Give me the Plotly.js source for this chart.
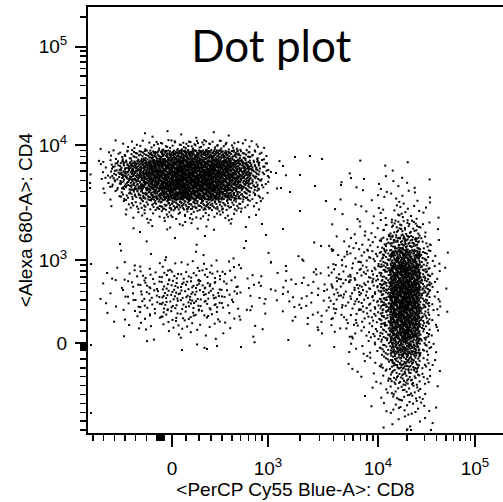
<!DOCTYPE html>
<html><head><meta charset="utf-8">
<script src="https://cdn.plot.ly/plotly-3.0.1.min.js"></script>
<style>html,body{margin:0;padding:0;background:#fff;} #chart{width:503px;height:502px;}</style>
</head><body><div id="chart"></div>
<script>
// ---------- DATA (event density, in display channels) ----------
// CD4+ population: counts per cell, rows from top to bottom
const cd4Counts = [
  [0,0,0,0,0,1,1,1,0,1,1,0,1,1,0,0,0,0,0,0],
  [0,1,1,2,3,4,5,6,7,8,8,8,7,6,5,4,3,1,0,0],
  [0,1,4,8,12,16,24,30,34,36,36,34,30,26,20,14,8,3,0,0],
  [1,3,10,20,28,34,42,46,48,48,48,48,46,42,36,28,18,6,1,0],
  [1,4,12,22,30,38,45,48,50,50,50,50,48,44,38,30,18,6,1,1],
  [0,2,8,16,24,32,42,46,48,50,50,48,46,42,34,24,14,5,1,0],
  [0,1,3,8,14,20,30,38,42,44,44,42,38,32,24,16,8,2,0,0],
  [0,0,1,3,6,9,13,16,18,18,18,17,15,12,9,6,3,1,0,0],
  [0,0,0,1,2,3,4,5,5,5,5,5,4,4,3,2,1,0,0,0],
  [0,0,0,0,1,1,1,2,2,2,2,1,1,1,1,1,0,0,0,0]
];
// double-negative population
const dnCounts = [
  [0,0,1,0,1,0,0,1,0,0,1,1,1],
  [0,1,1,1,1,1,1,0,1,1,1,1,1],
  [1,2,3,4,4,4,3,1,1,1,2,2,2],
  [2,4,7,9,9,8,5,2,2,2,3,3,2],
  [2,5,9,12,13,11,6,3,2,3,4,4,3],
  [2,5,10,13,14,12,7,3,2,3,4,4,3],
  [2,4,9,12,13,10,5,2,2,3,3,4,3],
  [1,3,6,9,9,7,3,2,1,2,3,3,2],
  [1,2,3,5,5,4,2,1,1,1,2,2,2],
  [0,1,1,2,2,2,1,1,0,1,1,1,1],
  [0,0,1,0,1,1,0,1,0,0,1,0,0]
];
// CD8+ population
const cd8Counts = [
  [0,1,0,1,0,1,1,1,0,0,0,0],
  [0,1,1,1,1,2,2,2,1,1,0,0],
  [0,1,1,1,2,2,3,3,2,1,1,0],
  [1,1,1,2,2,3,5,5,4,2,1,0],
  [1,1,2,2,3,6,12,14,10,4,1,0],
  [2,2,3,4,5,11,26,30,24,8,2,0],
  [3,3,4,6,8,18,44,54,44,14,4,1],
  [4,4,6,8,10,22,60,70,60,20,5,1],
  [4,5,6,8,11,25,66,75,64,22,5,1],
  [3,4,5,8,10,24,66,75,62,20,5,1],
  [2,3,4,6,8,21,60,70,56,18,4,1],
  [1,2,3,4,7,18,52,62,50,14,3,0],
  [1,1,2,3,5,13,40,48,38,11,3,0],
  [0,1,1,2,3,8,25,30,24,8,2,0],
  [0,0,1,1,2,5,14,18,14,5,2,0],
  [0,0,0,1,1,3,8,10,8,3,1,0],
  [0,0,0,0,1,2,4,6,5,3,1,0],
  [0,0,0,0,0,1,2,2,2,1,1,0]
];
// isolated events (display channels)
const strayX = [207,222,234,188,195,193,202,195,212,238,253,263,178,158,183,233,2,2,3,3,3,94,119,129,153,319,323,343,212,227,174,52,87,117,32];
const strayY = [276,277,274,260,267,245,241,204,222,232,248,255,198,192,171,187,250,245,169,88,20,83,84,87,86,3,3,3,258,247,209,201,195,197,189];

// axis tick values (fluorescence units)
const majorTickValues = [0, 1e3, 1e4, 1e5];
const majorTickLabels = ['0', '10<sup>3</sup>', '10<sup>4</sup>', '10<sup>5</sup>'];
const minorPos = [100,200,300,400,500,600,700,800,900,2e3,3e3,4e3,5e3,6e3,7e3,8e3,9e3,2e4,3e4,4e4,5e4,6e4,7e4,8e4,9e4,2e5,3e5];
const minorNegX = [-500,-600,-700,-800,-900,-1e3,-2e3,-3e3,-4e3,-5e3,-6e3,-7e3];
const minorNegY = [-100,-200,-300,-400,-500,-600,-700,-800,-900,-1e3,-2e3,-3e3,-4e3,-5e3,-6e3,-7e3,-8e3,-9e3,-1e4];

// ---------- scale setup (biexponential display) ----------
const X_SCALE = {pos:[[0,84],[1e3,180],[1e4,290],[1e5,387]], negFirst:[-1000,69], negStep:10.67, c:450, range:[0,415]};
const Y_SCALE = {pos:[[0,90],[1e3,173],[1e4,288],[1e5,386.5]], negFirst:[-1000,83], negStep:8.9, c:450, range:[0,426]};
function biex(v, s){
  const g = t => Math.asinh(t / s.c);
  if (v >= 0){
    const a = s.pos; let i = 0;
    while (i < a.length - 2 && v > a[i+1][0]) i++;
    const g0 = g(a[i][0]), g1 = g(a[i+1][0]);
    return a[i][1] + (g(v) - g0) / (g1 - g0) * (a[i+1][1] - a[i][1]);
  }
  const v1 = s.negFirst[0], d1 = s.negFirst[1], d0 = s.pos[0][1];
  if (v >= v1) return d0 + (v / v1) * (d1 - d0);
  return d1 - (v1 - v) / 1000 * s.negStep;
}
const inRange = (d, s) => d >= s.range[0] && d <= s.range[1];

// ---------- expand density cells into events ----------
const GRIDS = [
  {counts: cd4Counts, x0: 2,   yTop: 303, w: 10, h: 10},
  {counts: dnCounts,  x0: 12,  yTop: 193, w: 20, h: 10},
  {counts: cd8Counts, x0: 242, yTop: 273, w: 10, h: 15}
];
function halton(i, b){ let f = 1, r = 0; while (i > 0){ f /= b; r += f * (i % b); i = Math.floor(i / b); } return r; }
const evX = [], evY = [];
let k = 1;
GRIDS.forEach(G => {
  G.counts.forEach((row, r) => {
    row.forEach((n, c) => {
      for (let j = 0; j < n; j++, k++){
        evX.push(G.x0 + (c + halton(k, 2)) * G.w);
        evY.push(G.yTop - (r + halton(k, 3)) * G.h);
      }
    });
  });
});
strayX.forEach((x, i) => { evX.push(x); evY.push(strayY[i]); });

const tickFont = {family: 'Liberation Sans, Arial, sans-serif', size: 19, color: '#000'};
const trace = {
  type: 'scatter', mode: 'markers', x: evX, y: evY, hoverinfo: 'skip',
  marker: {symbol: 'square', size: 2, color: '#000', line: {width: 0}}
};
const layout = {
  width: 503, height: 502,
  margin: {l: 88, r: 0, t: 7, b: 69},
  paper_bgcolor: '#fff', plot_bgcolor: '#fff',
  showlegend: false,
  title: {text: 'Dot plot', font: {family: 'Lato, sans-serif', size: 44, color: '#000'},
          xref: 'paper', x: 0.4415, xanchor: 'center', yref: 'container', y: 1 - 47/502, yanchor: 'middle'},
  xaxis: {
    range: X_SCALE.range, showgrid: false, zeroline: false,
    showline: true, linewidth: 2, linecolor: '#000', mirror: true,
    tickmode: 'array', tickvals: majorTickValues.map(v => biex(v, X_SCALE)), ticktext: majorTickLabels,
    ticks: 'outside', ticklen: 12, tickwidth: 2, tickcolor: '#000', ticklabelstandoff: 5,
    tickfont: tickFont,
    minor: {tickmode: 'array', tickvals: minorPos.concat(minorNegX).map(v => biex(v, X_SCALE)).filter(d => inRange(d, X_SCALE)),
            ticks: 'outside', ticklen: 6, tickwidth: 1.5, tickcolor: '#000', showgrid: false},
    title: {text: '<PerCP Cy55 Blue-A>: CD8', font: {family: 'Liberation Sans, Arial, sans-serif', size: 19, color: '#000'}, standoff: 0},
    automargin: false, fixedrange: true
  },
  yaxis: {
    range: Y_SCALE.range, showgrid: false, zeroline: false,
    showline: true, linewidth: 2, linecolor: '#000', mirror: false,
    tickmode: 'array', tickvals: majorTickValues.map(v => biex(v, Y_SCALE)), ticktext: majorTickLabels,
    ticks: 'outside', ticklen: 11, tickwidth: 2, tickcolor: '#000', ticklabelstandoff: 4,
    tickfont: tickFont,
    minor: {tickmode: 'array', tickvals: minorPos.concat(minorNegY).map(v => biex(v, Y_SCALE)).filter(d => inRange(d, Y_SCALE)),
            ticks: 'outside', ticklen: 6, tickwidth: 1.5, tickcolor: '#000', showgrid: false},
    title: {text: '<Alexa 680-A>: CD4', font: {family: 'Liberation Sans, Arial, sans-serif', size: 19, color: '#000'}, standoff: 1},
    automargin: false, fixedrange: true
  }
};
Plotly.newPlot('chart', [trace], layout, {staticPlot: true, displayModeBar: false});
</script></body></html>
